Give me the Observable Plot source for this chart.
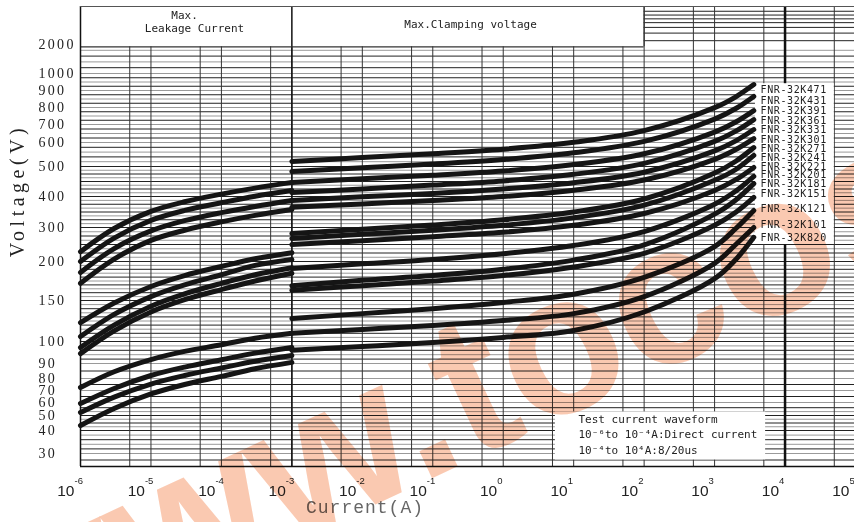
<!DOCTYPE html>
<html><head><meta charset="utf-8">
<script src="https://cdn.jsdelivr.net/npm/d3@7"></script>
<script src="https://cdn.jsdelivr.net/npm/@observablehq/plot@0.6"></script>
<style>
body{margin:0;background:#fff}
svg{display:block}
</style>
</head><body><div id="chart"></div>
<script>
// ---- axis ticks ----
const xTickExps = [-6,-5,-4,-3,-2,-1,0,1,2,3,4,5];
const yTickLabels = [30,40,50,60,70,80,90,100,150,200,300,400,500,600,700,800,900,1000,2000];
const gridX = [5e-6,1e-5,5e-5,1e-4,5e-4,1e-3,5e-3,1e-2,5e-2,1e-1,5e-1,1,5,10,50,100,500,1000,5000,1e4,5e4];
const gridY = [27.5,30,32,34,36,38,40,42.5,45,47.5,50,53,56,60,65,70,75,80,85,90,92,94,96,98,100,105,110,115,120,125,130,135,140,145,150,155,160,165,170,175,180,185,190,195,200,212.5,225,237.5,250,262.5,275,287.5,300,312.5,325,337.5,350,362.5,375,387.5,400,412.5,425,437.5,450,462.5,475,487.5,500,520,540,560,580,600,625,650,675,700,725,750,775,800,825,850,875,900,925,950,975,1000,1200,1400,1600,1800];
const gridYHead = [2200,2600,2900,3150,3350,3550,3750];

// ---- series: leakage region (DC, 1e-6 .. 1e-3 A) ----
const leakCurrent = [1e-6,3e-6,1e-5,3e-5,1e-4,3e-4,1e-3];
const leakModels = ["K471","K431","K391","K361","K241","K221","K201","K181","K151","K121","K101","K820"];
const leakK471 = [229,297,352,383,408,428,447];
const leakK431 = [200,269,323,355,380,401,420];
const leakK391 = [186,238,290,322,348,368,387];
const leakK361 = [172,207,262,292,318,339,358];
const leakK241 = [123,147,168,182,193.6,208,226];
const leakK221 = [106,133,155,170,183,195,206];
const leakK201 = [97.3,120,143,158.5,172,183,192];
const leakK181 = [94.5,113,136,151,164,175,185];
const leakK151 = [72.5,84.5,91.8,95.5,98.5,104,110];
const leakK121 = [59.2,71.7,82,87.6,91.7,94.7,97.3];
const leakK101 = [52.3,64.5,75.4,82,87,91,93.6];
const leakK820 = [43.3,55.4,67.1,75,81.4,86.5,90.5];
const leakSeries = [leakK471,leakK431,leakK391,leakK361,leakK241,leakK221,leakK201,leakK181,leakK151,leakK121,leakK101,leakK820];

// ---- series: clamping region (8/20us, 1e-3 .. ~3.6e3 A) ----
const clampCurrent = [1e-3,1e-2,1e-1,1e0,1e1,1e2,1e3,2e3,3600];
const clampModels = ["FNR-32K471","FNR-32K431","FNR-32K391","FNR-32K361","FNR-32K331","FNR-32K301","FNR-32K271","FNR-32K241","FNR-32K221","FNR-32K201","FNR-32K181","FNR-32K151","FNR-32K121","FNR-32K101","FNR-32K820"];
const clampK471 = [521,537,553,572,601,666,799,863,935];
const clampK431 = [483,496,510,529,557,606,732,794,865];
const clampK391 = [447,459,471,485,508,553,658,715,782];
const clampK361 = [413,425,438,452,474,513,606,663,729];
const clampK331 = [387,399,410,425,446,481,565,609,672];
const clampK301 = [365,376,387,400,421,455,530,571,622];
const clampK271 = [282,295,308,325,350,392,478,522,579];
const clampK241 = [268,280,292,307,331,372,454,490,546];
const clampK221 = [250,261,273,286,307,345,420,456,497];
const clampK201 = [191,197,206,223,247,288,375,418,467];
const clampK181 = [169,176,182,190,204,249,343,389,443];
const clampK151 = [163,169,175,182,193,224,307,349,397];
const clampK121 = [128,134,140,147.6,158,179.5,244,297,355];
const clampK101 = [110,114.6,119.5,125.6,134,155,197.7,250,300];
const clampK820 = [96,97.7,99.5,105,113.5,136,178,206,271];
const clampSeries = [clampK471,clampK431,clampK391,clampK361,clampK331,clampK301,clampK271,clampK241,clampK221,clampK201,clampK181,clampK151,clampK121,clampK101,clampK820];

// label anchor voltages for model names
const labelV = [906,841,782,724,672,615,574,536,499,473,443,410,361,309,270];

// ---- tables ----
const leakRows = leakSeries.flatMap((s,k)=>s.map((v,i)=>({model:leakModels[k],I:leakCurrent[i],V:v})));
const clampRows = clampSeries.flatMap((s,k)=>s.map((v,i)=>({model:clampModels[k],I:clampCurrent[i],V:v})));
const labelRows = clampModels.map((m,i)=>({name:m,V:labelV[i]}));

const dark = "#222", light = "#9a9a9a";
const gridYDark = gridY.filter((d,i)=>i%2===0), gridYLight = gridY.filter((d,i)=>i%2===1);
const mono = "DejaVu Sans Mono";

const chart = Plot.plot({
  width: 854, height: 522,
  marginLeft: 80, marginRight: 0, marginTop: 6, marginBottom: 56,
  x: {type: "log", domain: [1e-6, 1e5], range: [80, 855], axis: null},
  y: {type: "linear",
      domain: [25,30,40,50,60,70,80,90,100,150,200,300,400,500,600,700,800,900,1000,2000,4000],
      range:  [466,453,430,415,402,390,378,363,341,300,261,227,196,166,142,124,107,90,73,44,6],
      axis: null},
  style: {background: "#fff"},
  marks: [
    Plot.ruleY(gridYLight, {y: d=>d, x1: 1e-6, x2: 1e5, stroke: light, strokeWidth: 1}),
    Plot.ruleY(gridYDark, {y: d=>d, x1: 1e-6, x2: 1e5, stroke: dark, strokeWidth: 1}),
    Plot.ruleY(gridYHead, {y: d=>d, x1: 100, x2: 1e5, stroke: dark, strokeWidth: 1}),
    Plot.ruleX(gridX.filter(d=>d<100), {x: d=>d, y1: 25, y2: 1920, stroke: "#333", strokeWidth: 1}),
    Plot.ruleX(gridX.filter(d=>d>=100), {x: d=>d, y1: 25, y2: 4000, stroke: "#333", strokeWidth: 1}),
    // test-waveform box
    Plot.rect([0], {x1: 5.5, x2: 5300, y1: 27.5, y2: 52.7, fill: "#fff"}),
    // structure lines
    Plot.ruleX([1e-3], {y1: 25, y2: 4000, stroke: "#111", strokeWidth: 1.5}),
    Plot.ruleX([1e4], {y1: 25, y2: 4000, stroke: "#111", strokeWidth: 2.5}),
    Plot.ruleY([1920], {x1: 1e-6, x2: 100, stroke: "#333", strokeWidth: 1.2}),
    Plot.ruleX([100], {y1: 1920, y2: 4000, stroke: "#333", strokeWidth: 1.2}),
    Plot.ruleX([1e-6], {y1: 25, y2: 4000, stroke: "#111", strokeWidth: 1.5}),
    Plot.ruleY([25], {x1: 1e-6, x2: 1e5, stroke: "#111", strokeWidth: 1.5}),
    Plot.ruleY([4000], {x1: 1e-6, x2: 1e5, stroke: "#555", strokeWidth: 1}),
    // model label box
    Plot.rect([0], {x1: 3800, x2: 50000, y1: 250, y2: 940, fill: "#fff"}),
    // curves
    Plot.line(leakRows, {x: "I", y: "V", z: "model", stroke: "#151515", strokeWidth: 5, strokeLinecap: "round", curve: "catmull-rom"}),
    Plot.line(clampRows, {x: "I", y: "V", z: "model", stroke: "#151515", strokeWidth: 5, strokeLinecap: "round", curve: "catmull-rom"}),
    // model labels
    Plot.text(labelRows, {x: 4500, y: "V", text: "name", textAnchor: "start", fontFamily: mono, fontSize: 10, fill: "#222"}),
    // header texts
    Plot.text(["Max."], {x: 3.0e-5, y: 3526, fontFamily: mono, fontSize: 11, fill: "#222"}),
    Plot.text(["Leakage Current"], {x: 4.15e-5, y: 2826, fontFamily: mono, fontSize: 11, fill: "#222"}),
    Plot.text(["Max.Clamping voltage"], {x: 0.344, y: 3053, fontFamily: mono, fontSize: 11, fill: "#222"}),
    // test waveform note
    Plot.text(["Test current waveform"], {x: 11.7, y: 47.3, textAnchor: "start", fontFamily: mono, fontSize: 11, fill: "#222"}),
    Plot.text(["10⁻⁶to 10⁻⁴A:Direct current"], {x: 11.7, y: 38.3, textAnchor: "start", fontFamily: mono, fontSize: 11, fill: "#222"}),
    Plot.text(["10⁻⁴to 10⁴A:8/20us"], {x: 11.7, y: 31.3, textAnchor: "start", fontFamily: mono, fontSize: 11, fill: "#222"}),
    // y tick labels
    Plot.text(yTickLabels, {y: d=>d, text: d=>String(d), frameAnchor: "left", dx: -42, textAnchor: "start", fontFamily: "Liberation Serif", fontSize: 14, fill: "#222"}),
    // x tick labels
    Plot.text(xTickExps, {x: d=>10**d, text: ()=>"10", frameAnchor: "bottom", dx: -6, dy: 29.5, textAnchor: "end", lineAnchor: "bottom", fontFamily: "Liberation Sans", fontSize: 15.5, fill: "#222"}),
    Plot.text(xTickExps, {x: d=>10**d, text: d=>String(d), frameAnchor: "bottom", dx: -6, dy: 17, textAnchor: "start", lineAnchor: "bottom", fontFamily: "Liberation Sans", fontSize: 9.5, fill: "#222"}),
    // axis titles
    Plot.text(["Voltage(V)"], {frameAnchor: "left", dx: -62.5, dy: -46, rotate: -90, textAnchor: "middle", fontFamily: "Liberation Serif", fontSize: 20, fill: "#222"}),
    Plot.text(["Current(A)"], {frameAnchor: "bottom", dx: -102.5, dy: 46, textAnchor: "middle", fontFamily: "Liberation Mono", fontSize: 18, fill: "#666"}),
    // source watermark
    Plot.text(["www.tocos"], {frameAnchor: "top-left", dx: 371, dy: 392, rotate: -25, textAnchor: "middle", lineAnchor: "middle", fontFamily: "Liberation Sans", fontWeight: "bold", fontSize: 200, fill: "#f8b797", fillOpacity: 0.75, mixBlendMode: "multiply"})
  ]
});
// letter spacing for the spaced-out labels
const yLabelSet = new Set(yTickLabels.map(String));
d3.select(chart).selectAll("text").each(function(){
  const t = this.textContent;
  if (yLabelSet.has(t) && this.getAttribute("text-anchor") !== "end") this.setAttribute("letter-spacing", "2.3");
  if (t === "Voltage(V)") this.setAttribute("letter-spacing", "4.5");
  if (t === "Current(A)") this.setAttribute("letter-spacing", "1");
  if (t.startsWith("FNR-")) this.setAttribute("letter-spacing", "0.6");
});
document.getElementById("chart").appendChild(chart);
</script>
</body></html>
